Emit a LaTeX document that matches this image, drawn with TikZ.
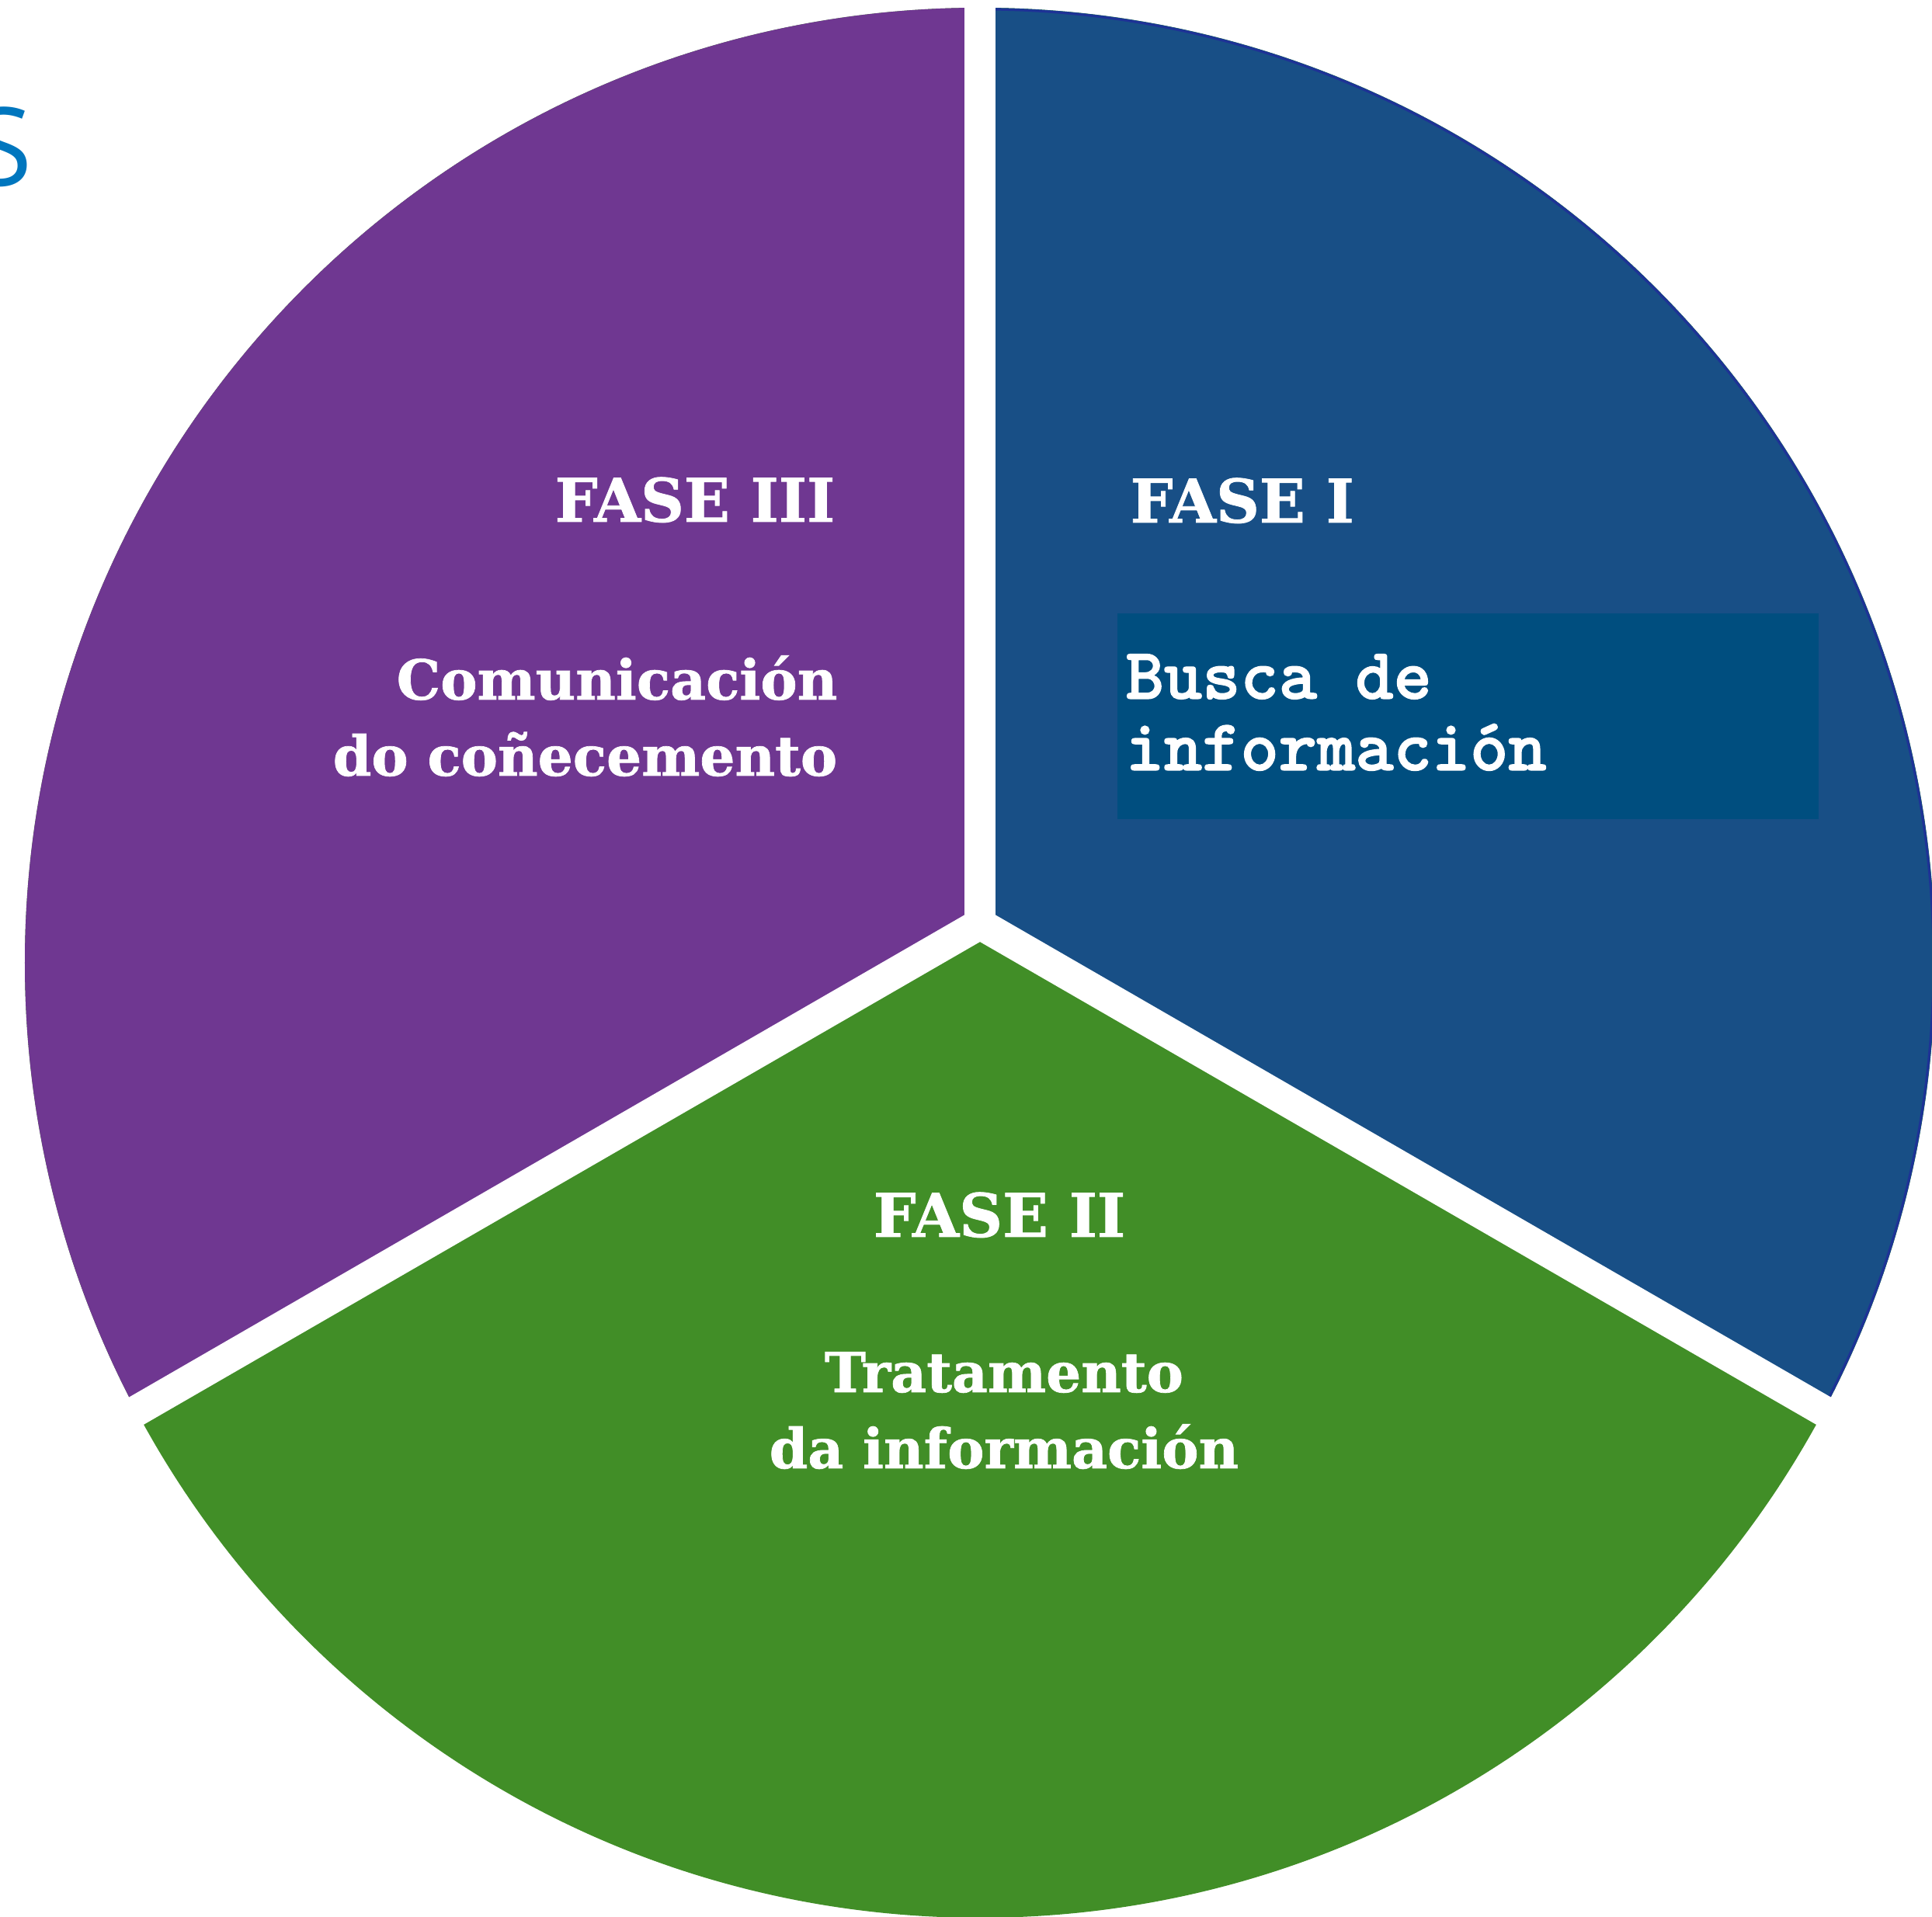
\documentclass[tikz,border=0pt]{standalone}
\usepackage{fontspec}
\newfontfamily\fasefont{DejaVu Serif}
\newfontfamily\titlefont{Open Sans}
\newfontfamily\buscafont{lmmonolt10-bold.otf}[FakeBold=1.5]

\definecolor{fasepurple}{HTML}{6F3791}
\definecolor{faseblue}{HTML}{184F86}
\definecolor{fasegreen}{HTML}{418E27}
\definecolor{buscabox}{HTML}{004E7F}
\definecolor{blueedge}{HTML}{1E3296}
\definecolor{titleblue}{HTML}{0076BE}

\tikzset{
  gapline/.style={white, line width=0.40cm},
  fasehead/.style={text=white, inner sep=0pt, font=\fasefont\bfseries\fontsize{22}{27.9}\selectfont\addfontfeature{FakeBold=1}},
  fasetext/.style={text=white, inner sep=0pt, font=\fasefont\bfseries\fontsize{20.2}{27.9}\selectfont\addfontfeature{FakeBold=1}},
  buscatext/.style={text=white, inner sep=0pt, align=left, font=\buscafont\fontsize{26.7}{26.2}\selectfont}
}

\begin{document}
\begin{tikzpicture}

  \useasboundingbox (0,0) rectangle (24.88,24.69);

  \coordinate (hub) at (12.62,12.79);
  \coordinate (mid) at (12.62,12.29);

  \fill[fasegreen] (mid) circle (12.30);

  \begin{scope}
    \clip (hub) -- +(90:20) -- +(150:30) -- +(210:20) -- cycle;
    \fill[fasepurple] (mid) circle (12.30);
  \end{scope}

  \begin{scope}
    \clip (hub) -- +(90:20) -- +(30:30) -- +(-30:20) -- cycle;
    \fill[faseblue] (mid) circle (12.30);
    \draw[blueedge, line width=0.03cm] (mid) circle (12.28);
  \end{scope}

  \draw[gapline] (hub) -- +(90:14);
  \draw[gapline] (hub) -- +(210:14);
  \draw[gapline] (hub) -- +(-30:14);

  \fill[buscabox] (14.39,14.14) rectangle (23.42,16.79);

  \node[text=titleblue, inner sep=0pt, anchor=base east, font=\titlefont\fontsize{40}{40}\selectfont] (title) at (0.42,22.29) {S};

  \node[fasehead, anchor=base east] (fase3) at (10.76,17.97) {FASE III};
  \node[fasetext, anchor=base east, align=right] (fase3txt) at (10.79,14.70) {Comunicación\\do coñecemento};

  \node[fasehead, anchor=base west] (fase1) at (14.55,17.96) {FASE I};
  \node[buscatext, anchor=base west] (fase1txt) at (14.49,14.77) {Busca de\\información};

  \node[fasehead, anchor=base] (fase2) at (12.87,8.76) {FASE II};
  \node[fasetext, anchor=base, align=center] (fase2txt) at (12.93,5.78) {Tratamento\\da información};

\end{tikzpicture}
\end{document}
